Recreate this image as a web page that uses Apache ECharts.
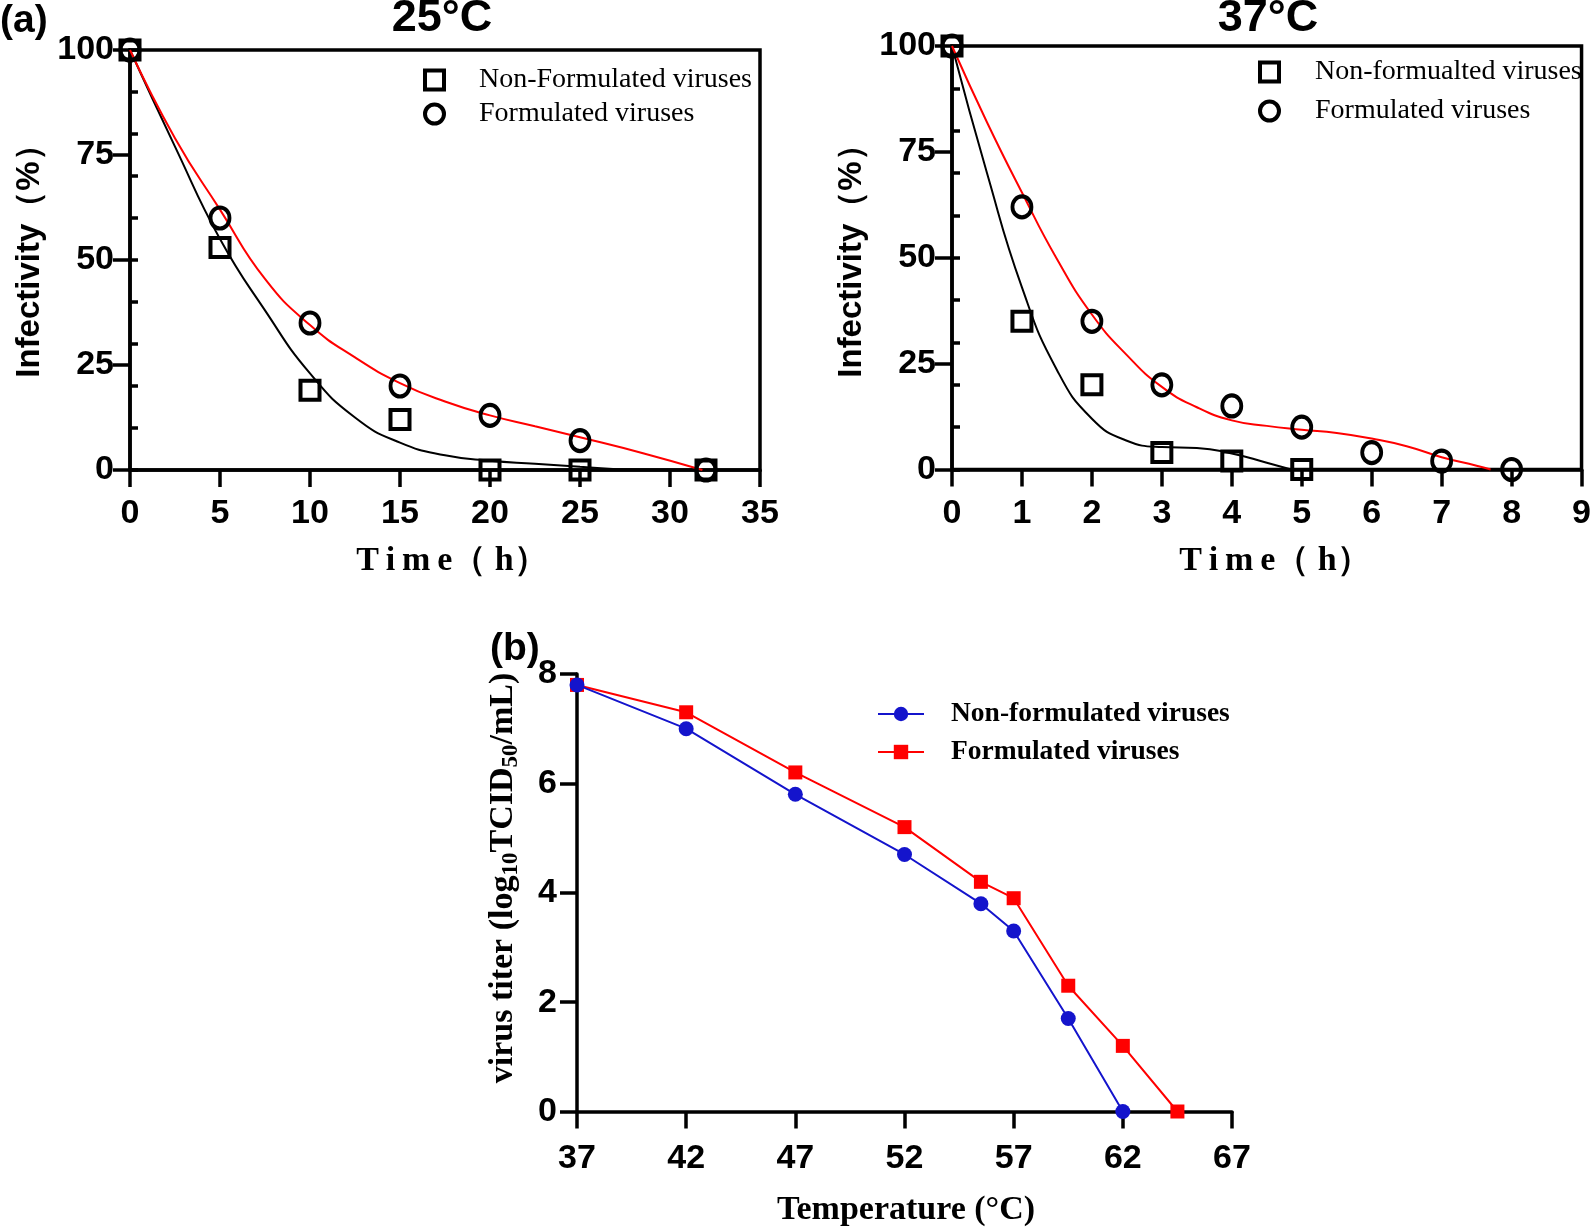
<!DOCTYPE html>
<html><head><meta charset="utf-8">
<script src="https://cdn.jsdelivr.net/npm/echarts@6/dist/echarts.min.js"></script>
<style>html,body{margin:0;padding:0;background:#fff}#c{width:1594px;height:1227px}</style>
</head><body><div id="c"></div>
<script>
// ---- Panel (a) 25°C ----
const t25 = [0, 5, 10, 15, 20, 25, 32];
const nonForm25 = [100, 53, 19, 12, 0, 0, 0];
const form25 = [100, 60, 35, 20, 13, 7, 0];
const fitNonX25 = [0, 2.5, 5, 7.5, 10, 12.5, 15, 17.5, 20, 22.5, 25, 28, 32];
const fitNonY25 = [100, 77, 55, 38, 23, 12.5, 6.5, 3.5, 2.2, 1.5, 0.8, 0.1, 0];
const fitFormX25 = [0, 2.5, 5, 7.5, 10, 12.5, 15, 17.5, 20, 22.5, 25, 28.5, 31.8];
const fitFormY25 = [100, 79, 62, 45.5, 34.5, 26.8, 20.7, 16.3, 13, 10.4, 7.8, 4, 0];
// ---- Panel (a) 37°C ----
const tNon37 = [0, 1, 2, 3, 4, 5];
const nonForm37 = [100, 35, 20, 4, 2, 0];
const tForm37 = [0, 1, 2, 3, 4, 5, 6, 7, 8];
const form37 = [100, 62, 35, 20, 15, 10, 4, 2, 0];
const fitNonX37 = [0, 0.5, 1, 1.5, 2, 2.5, 3, 3.5, 4, 4.5, 4.85];
const fitNonY37 = [100, 70, 43, 23.5, 12, 6.8, 5.3, 5.1, 3.8, 1.6, 0];
const fitFormX37 = [0, 0.5, 1, 1.5, 2, 2.5, 3, 3.5, 4, 4.5, 5, 5.5, 6, 6.5, 7, 7.5, 7.7];
const fitFormY37 = [100, 82, 65.4, 49.7, 36.6, 27, 19.5, 14.7, 11.6, 10.3, 9.4, 8.6, 7.3, 5.5, 2.9, 0.9, 0];
// ---- Panel (b) ----
const tempNon = [37, 42, 47, 52, 55.5, 57, 59.5, 62];
const titerNon = [7.8, 7.0, 5.8, 4.7, 3.8, 3.3, 1.7, 0];
const tempForm = [37, 42, 47, 52, 55.5, 57, 59.5, 62, 64.5];
const titerForm = [7.8, 7.3, 6.2, 5.2, 4.2, 3.9, 2.3, 1.2, 0];

const legendNames = {
  nf25: 'Non-Formulated viruses', f25: 'Formulated viruses',
  nf37: 'Non-formualted viruses', f37: 'Formulated viruses',
  nfT: 'Non-formulated viruses', fT: 'Formulated viruses'
};

const zip = (xs, ys) => xs.map((x, i) => [x, ys[i]]);
const SANS = '"Liberation Sans", Arial, sans-serif';
const SERIF = '"Liberation Serif", "Times New Roman", serif';
const TICKFONT = 34;

function axisCfg(grid, min, max, interval, margin) {
  return {
    gridIndex: grid, type: 'value', min, max, interval,
    axisLine: {show: true, onZero: false, lineStyle: {color: '#000', width: 3.5}},
    axisTick: {show: true, inside: false, length: 17, lineStyle: {color: '#000', width: 3.5}},
    axisLabel: {color: '#000', fontFamily: SANS, fontWeight: 'bold', fontSize: TICKFONT, margin},
    splitLine: {show: false}
  };
}
function minorY(grid) {
  return {
    gridIndex: grid, type: 'value', min: 0, max: 100, interval: 10,
    axisLine: {show: false},
    axisTick: {show: true, inside: false, length: 8, lineStyle: {color: '#000', width: 3.5}},
    axisLabel: {show: false}, splitLine: {show: false}
  };
}
function openScatter(name, xi, yi, data, symbol, size) {
  return {
    name, type: 'scatter', xAxisIndex: xi, yAxisIndex: yi, data, symbol, symbolSize: size,
    itemStyle: {color: 'rgba(255,255,255,0)', borderColor: '#000', borderWidth: 4, opacity: 1},
    clip: false, z: 5
  };
}
function fitLine(xi, yi, data, color) {
  return {
    type: 'line', xAxisIndex: xi, yAxisIndex: yi, data, smooth: 0.5,
    showSymbol: false, symbol: 'none', lineStyle: {color, width: 2}, clip: false, z: 3, silent: true
  };
}
function rowLegend(left, top, names, gap, padLeft, font) {
  return {
    orient: 'vertical', left, top, padding: 0, itemGap: gap, itemWidth: 19, itemHeight: 19,
    data: names, selectedMode: false,
    formatter: n => legendNames[n],
    itemStyle: {borderWidth: 4, borderColor: '#000', color: 'rgba(255,255,255,0)'},
    textStyle: {color: '#000', fontFamily: SERIF, fontSize: font, fontWeight: 'normal', padding: [0, 0, 0, padLeft]}
  };
}

const chart = echarts.init(document.getElementById('c'), null, {renderer: 'canvas'});
chart.setOption({
  backgroundColor: '#fff',
  animation: false,
  grid: [
    {left: 130, right: 834, top: 50, bottom: 757, show: true, borderColor: '#000', borderWidth: 3.5, backgroundColor: 'transparent'},
    {left: 952, right: 8, top: 46, bottom: 757.5, show: true, borderColor: '#000', borderWidth: 3.5, backgroundColor: 'transparent'},
    {left: 577, right: 362, top: 674, bottom: 115.5}
  ],
  xAxis: [
    axisCfg(0, 0, 35, 5, 27),
    axisCfg(1, 0, 9, 1, 27),
    axisCfg(2, 37, 67, 5, 30)
  ],
  yAxis: [
    axisCfg(0, 0, 100, 25, 16),
    axisCfg(1, 0, 100, 25, 16),
    axisCfg(2, 0, 8, 2, 20),
    minorY(0),
    minorY(1)
  ],
  legend: [
    rowLegend(423, 66, ['nf25', 'f25'], 6, 30, 28),
    rowLegend(1258, 58, ['nf37', 'f37'], 11, 31, 28),
    {
      orient: 'vertical', left: 877, top: 700, padding: 0, itemGap: 10, itemWidth: 46, itemHeight: 18,
      data: ['nfT', 'fT'], selectedMode: false, formatter: n => legendNames[n],
      textStyle: {color: '#000', fontFamily: SERIF, fontSize: 27.5, fontWeight: 'bold', padding: [0, 0, 0, 22]}
    }
  ],
  series: [
    fitLine(0, 0, zip(fitNonX25, fitNonY25), '#000'),
    fitLine(0, 0, zip(fitFormX25, fitFormY25), '#ff0000'),
    openScatter('nf25', 0, 0, zip(t25, nonForm25), 'rect', 19),
    openScatter('f25', 0, 0, zip(t25, form25), 'circle', [19, 21]),
    fitLine(1, 1, zip(fitNonX37, fitNonY37), '#000'),
    fitLine(1, 1, zip(fitFormX37, fitFormY37), '#ff0000'),
    openScatter('nf37', 1, 1, zip(tNon37, nonForm37), 'rect', 19),
    openScatter('f37', 1, 1, zip(tForm37, form37), 'circle', [19, 21]),
    {
      name: 'nfT', type: 'line', xAxisIndex: 2, yAxisIndex: 2, data: zip(tempNon, titerNon),
      symbol: 'circle', symbolSize: 15, color: '#1414cc',
      itemStyle: {color: '#1414cc'}, lineStyle: {color: '#1414cc', width: 2}, clip: false, z: 4
    },
    {
      name: 'fT', type: 'line', xAxisIndex: 2, yAxisIndex: 2, data: zip(tempForm, titerForm),
      symbol: 'rect', symbolSize: 14, color: '#ff0000',
      itemStyle: {color: '#ff0000'}, lineStyle: {color: '#ff0000', width: 2}, clip: false, z: 3
    }
  ],
  graphic: [
    {type: 'text', left: 0, top: 2, style: {text: '(a)', fontFamily: SANS, fontWeight: 'bold', fontSize: 39, fill: '#000'}},
    {type: 'text', left: 490, top: 630, style: {text: '(b)', fontFamily: SANS, fontWeight: 'bold', fontSize: 39, fill: '#000'}},
    {type: 'text', x: 442, y: 19, style: {text: '25°C', fontFamily: SANS, fontWeight: 'bold', fontSize: 45, fill: '#000', align: 'center', verticalAlign: 'middle'}},
    {type: 'text', x: 1268, y: 19, style: {text: '37°C', fontFamily: SANS, fontWeight: 'bold', fontSize: 45, fill: '#000', align: 'center', verticalAlign: 'middle'}},
    {type: 'text', x: 30, y: 253, rotation: Math.PI / 2, style: {text: 'Infectivity（%）', fontFamily: SANS, fontWeight: 'bold', fontSize: 33, fill: '#000', align: 'center', verticalAlign: 'middle'}},
    {type: 'text', x: 852, y: 253, rotation: Math.PI / 2, style: {text: 'Infectivity（%）', fontFamily: SANS, fontWeight: 'bold', fontSize: 33, fill: '#000', align: 'center', verticalAlign: 'middle'}},
    {type: 'text', x: 452, y: 561, style: {text: 'T\u2009i\u2009m\u2009e（ h）', fontFamily: SERIF, fontWeight: 'bold', fontSize: 34, fill: '#000', align: 'center', verticalAlign: 'middle'}},
    {type: 'text', x: 1275, y: 561, style: {text: 'T\u2009i\u2009m\u2009e（ h）', fontFamily: SERIF, fontWeight: 'bold', fontSize: 34, fill: '#000', align: 'center', verticalAlign: 'middle'}},
    {type: 'text', x: 906, y: 1210, style: {text: 'Temperature (°C)', fontFamily: SERIF, fontWeight: 'bold', fontSize: 34, fill: '#000', align: 'center', verticalAlign: 'middle'}},
    {type: 'text', x: 503, y: 878, rotation: Math.PI / 2, style: {
      text: '{a|virus titer (log}{b|10}{a|TCID}{b|50}{a|/mL)}', align: 'center', verticalAlign: 'middle',
      rich: {
        a: {fontFamily: SERIF, fontWeight: 'bold', fontSize: 34, fill: '#000', color: '#000'},
        b: {fontFamily: SERIF, fontWeight: 'bold', fontSize: 23, fill: '#000', color: '#000', padding: [16, 0, 0, 0]}
      }
    }}
  ]
});
</script></body></html>
